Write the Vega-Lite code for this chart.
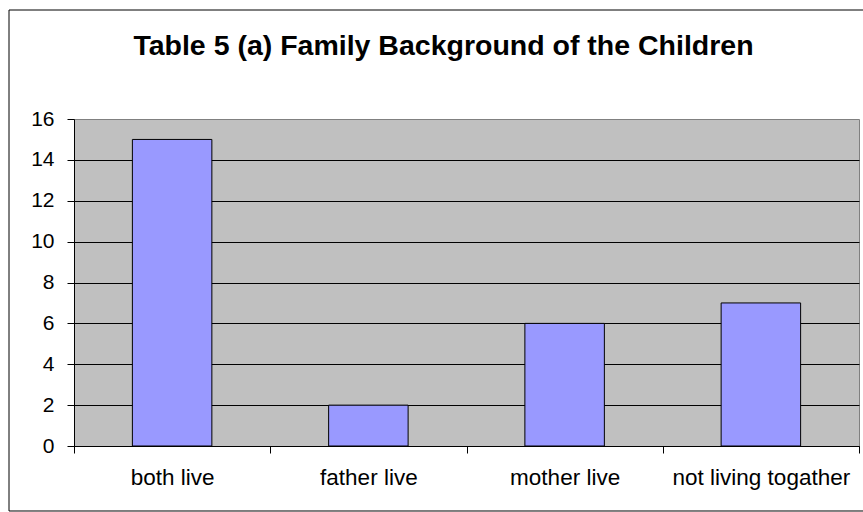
{
  "$schema": "https://vega.github.io/schema/vega-lite/v6.json",
  "width": 785,
  "height": 327,
  "padding": {"left": 8, "top": 9, "right": 0, "bottom": 1},
  "background": "white",
  "title": {
    "text": "Table 5 (a) Family Background of the Children",
    "font": "Liberation Sans",
    "fontSize": 28.5,
    "fontWeight": "bold",
    "color": "black",
    "anchor": "middle",
    "frame": "bounds",
    "baseline": "alphabetic",
    "offset": -74,
    "dx": 7.5
  },
  "config": {
    "view": {"fill": "#C0C0C0", "stroke": "#808080", "strokeWidth": 1},
    "axis": {
      "labelFont": "Liberation Sans",
      "labelColor": "black",
      "domainColor": "black",
      "tickColor": "black",
      "tickSize": 7,
      "title": null
    }
  },
  "layer": [
    {
      "data": {
        "values": [
          {"family": "both live", "children": 15},
          {"family": "father live", "children": 2},
          {"family": "mother live", "children": 6},
          {"family": "not living togather", "children": 7}
        ]
      },
      "mark": {"type": "bar", "fill": "#9999FF", "stroke": "black", "strokeWidth": 1, "width": {"band": 0.405}},
      "encoding": {
        "x": {
          "field": "family",
          "type": "nominal",
          "sort": null,
          "scale": {
            "domain": ["both live", "father live", "mother live", "not living togather"],
            "paddingInner": 0,
            "paddingOuter": 0
          },
          "axis": {"labelAngle": 0, "tickBand": "extent", "labelPadding": 13, "labelFontSize": 22.5, "grid": false}
        },
        "y": {
          "field": "children",
          "type": "quantitative",
          "scale": {"domain": [0, 16], "nice": false, "zero": true},
          "axis": {
            "values": [0, 2, 4, 6, 8, 10, 12, 14, 16],
            "grid": true,
            "gridColor": {"condition": {"test": "datum.value === 16", "value": "transparent"}, "value": "black"},
            "gridOpacity": 1,
            "labelFontSize": 21,
            "labelPadding": 13
          }
        },
        "y2": {"datum": 0}
      }
    },
    {
      "data": {"values": [{"edge": "left"}]},
      "mark": {"type": "rule", "color": "black", "strokeWidth": 1},
      "encoding": {
        "x": {"datum": "both live", "type": "nominal", "bandPosition": -0.3312},
        "y": {"datum": 21.333, "type": "quantitative"},
        "y2": {"datum": -3.18}
      }
    },
    {
      "data": {"values": [{"edge": "top", "level": 21.333}, {"edge": "bottom", "level": -3.18}]},
      "mark": {"type": "rule", "color": "black", "strokeWidth": 1},
      "encoding": {
        "x": {"datum": "both live", "type": "nominal", "bandPosition": -0.3312},
        "x2": {"datum": "not living togather", "bandPosition": 1.0204},
        "y": {"field": "level", "type": "quantitative"}
      }
    }
  ]
}
